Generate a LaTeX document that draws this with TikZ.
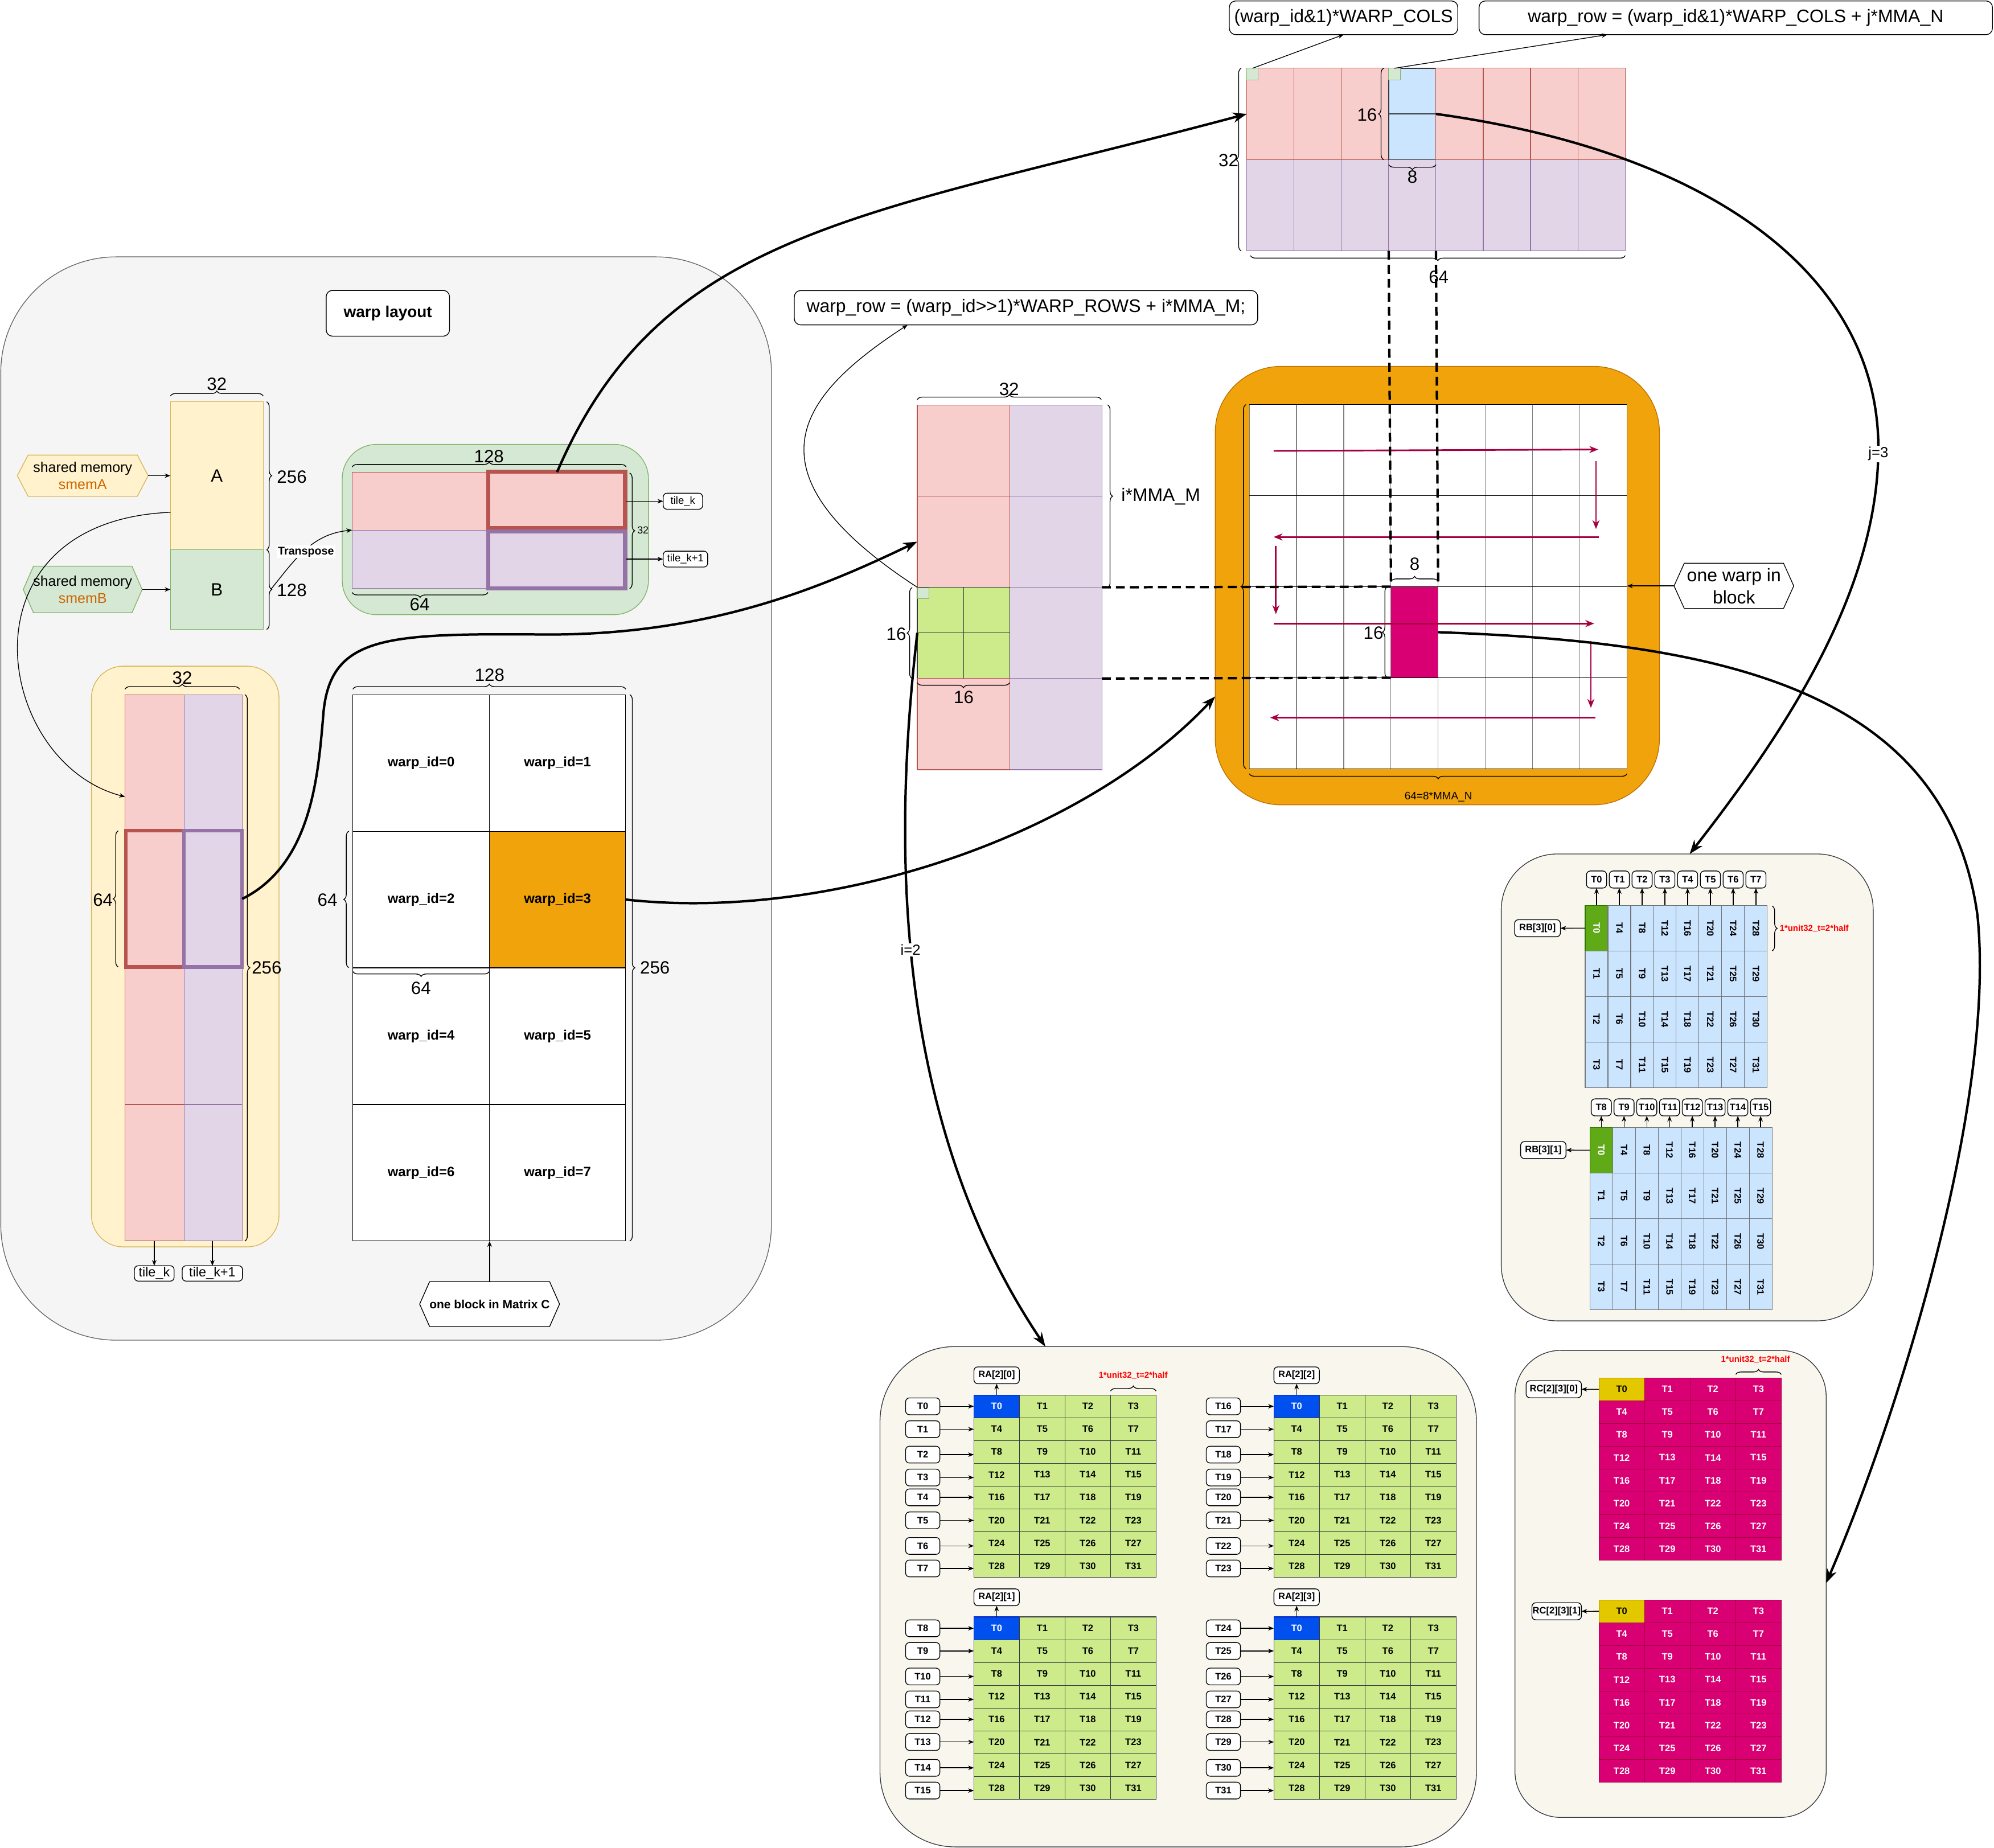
\documentclass[tikz,border=0pt]{standalone}
\usepackage{fontspec}
\setmainfont{Liberation Sans}
\usetikzlibrary{arrows.meta,decorations.pathreplacing,calc}
\definecolor{pinkF}{HTML}{F8CECC}\definecolor{pinkS}{HTML}{B85450}
\definecolor{purF}{HTML}{E1D5E7}\definecolor{purS}{HTML}{9673A6}
\definecolor{yelF}{HTML}{FFF2CC}\definecolor{yelS}{HTML}{D6B656}
\definecolor{grnF}{HTML}{D5E8D4}\definecolor{grnS}{HTML}{82B366}
\definecolor{bluF}{HTML}{CCE5FF}\definecolor{bluS}{HTML}{36393D}
\definecolor{oraF}{HTML}{F0A30A}\definecolor{oraS}{HTML}{BD7000}
\definecolor{magF}{HTML}{D80073}\definecolor{magS}{HTML}{A50040}
\definecolor{limF}{HTML}{CDEB8B}\definecolor{limS}{HTML}{36393D}
\definecolor{dgrF}{HTML}{60A917}\definecolor{dgrS}{HTML}{2D7600}
\definecolor{dblF}{HTML}{0050EF}\definecolor{dblS}{HTML}{001DBC}
\definecolor{gldF}{HTML}{E3C800}\definecolor{gldS}{HTML}{B09500}
\definecolor{panF}{HTML}{F5F5F5}\definecolor{panS}{HTML}{666666}
\definecolor{creF}{HTML}{F9F7ED}\definecolor{creS}{HTML}{36393D}
\definecolor{smemT}{HTML}{CC6600}
\definecolor{arrM}{HTML}{A50040}
\begin{document}
\begin{tikzpicture}[x=1pt,y=-1pt,
  every node/.style={inner sep=0pt,outer sep=0pt},
  nwb/.style={anchor=north west},
  rbox/.style={draw=black,fill=white,rounded corners=3pt,line width=0.6pt},
  lbl/.style={font=\fontsize{14}{17}\selectfont},
  big/.style={font=\fontsize{14.3}{17}\selectfont},
  tb/.style={font=\fontsize{7.4}{9}\selectfont\bfseries},
  redl/.style={font=\fontsize{6.7}{8}\selectfont\bfseries,text=red},
  fwid/.style={font=\fontsize{10.7}{13}\selectfont\bfseries},
  brc/.style={decorate,decoration={brace,amplitude=4pt},line width=0.6pt},
  arr/.style={-{Stealth[length=4.5pt,width=3.5pt]},line width=0.6pt},
  thk/.style={-{Stealth[length=11pt,width=8pt]},line width=1.9pt},
  marr/.style={-{Stealth[length=7pt,width=5.5pt]},draw=arrM,line width=1.3pt},
  dsh/.style={line width=1.9pt,dash pattern=on 7pt off 4pt},
]
\useasboundingbox (0,0) rectangle (1568,1453);
\fill[white] (0,0) rectangle (1568,1453);

% ================= LEFT PANEL =================
\node[nwb,draw=panS,fill=panF,line width=0.6pt,rounded corners=91pt,minimum width=606pt,minimum height=852pt] (leftpanel) at (0.6,202) {};
\node[rbox,rounded corners=5pt,minimum width=97pt,minimum height=36pt,font=\fontsize{12.5}{15}\selectfont\bfseries] (wl) at (305,246.4) {warp layout};

% A and B
\node[nwb,draw=yelS,fill=yelF,line width=0.6pt,minimum width=73pt,minimum height=116.3pt,lbl] (A) at (134,316) {A};
\node[nwb,draw=grnS,fill=grnF,line width=0.6pt,minimum width=73pt,minimum height=62.6pt,lbl] (B) at (134,432.3) {B};
\draw[brc] (134,311.5) -- (207,311.5);
\node[lbl] (l32a) at (170.5,302) {32};
\draw[brc] (209.7,316) -- (209.7,432.3);
\node[lbl] (l256a) at (229.5,375) {256};
\draw[brc] (209.7,432.3) -- (209.7,495);
\node[lbl] (l128b) at (229.5,464.4) {128};

% shared memory hexagons
\draw[draw=yelS,fill=yelF,line width=0.6pt] (13.6,374.1) -- (22.1,357.9) -- (108,357.9) -- (116.5,374.1) -- (108,390.3) -- (22.1,390.3) -- cycle;
\coordinate (smemAtip) at (116.5,374.1);
\node[align=center,font=\fontsize{11.2}{13.4}\selectfont] (smemA) at (65,374.3) {shared memory\\\textcolor{smemT}{smemA}};
\draw[arr] (smemAtip) -- (A.west |- smemAtip);
\draw[draw=grnS,fill=grnF,line width=0.6pt] (18.3,463.6) -- (26.3,445.3) -- (103.8,445.3) -- (111.8,463.6) -- (103.8,481.9) -- (26.3,481.9) -- cycle;
\coordinate (smemBtip) at (111.8,463.6);
\node[align=center,font=\fontsize{11.2}{13.4}\selectfont] (smemB) at (65,463.8) {shared memory\\\textcolor{smemT}{smemB}};
\draw[arr] (smemBtip) -- (B.west |- smemBtip);

% green panel
\node[nwb,draw=grnS,fill=grnF,line width=0.6pt,rounded corners=27pt,minimum width=240.8pt,minimum height=133.9pt] (gpanel) at (269.1,349.5) {};
\node[nwb,draw=pinkS,fill=pinkF,line width=0.5pt,minimum width=106.8pt,minimum height=45.6pt] (g11) at (276.9,371.3) {};
\node[nwb,draw=pinkS,fill=pinkF,line width=0.5pt,minimum width=108.7pt,minimum height=45.6pt] (g12) at (383.7,371.3) {};
\node[nwb,draw=purS,fill=purF,line width=0.5pt,minimum width=106.8pt,minimum height=46pt] (g21) at (276.9,416.9) {};
\node[nwb,draw=purS,fill=purF,line width=0.5pt,minimum width=108.7pt,minimum height=46pt] (g22) at (383.7,416.9) {};
\node[nwb,draw=pinkS,line width=3.2pt,minimum width=107.5pt,minimum height=44pt] (gkbox) at (384.1,371.1) {};
\node[nwb,draw=purS,line width=3.2pt,minimum width=107.5pt,minimum height=44.7pt] (gk1box) at (384.1,418) {};
\draw[brc] (276.9,367.3) -- (492.4,367.3);
\node[lbl] (l128g) at (384.5,358.9) {128};
\draw[brc] (495.1,372) -- (495.1,462.9);
\node[font=\fontsize{8}{10}\selectfont] (l32g) at (505.6,416.9) {32};
\draw[brc] (383.7,465.9) -- (276.9,465.9);
\node[lbl] (l64g) at (330,475.5) {64};
\node[rbox,minimum width=31pt,minimum height=12.6pt,font=\fontsize{8.3}{10}\selectfont] (gtk) at (537,394.2) {tile\_k};
\node[rbox,minimum width=35pt,minimum height=12.5pt,font=\fontsize{8.3}{10}\selectfont] (gtk1) at (539,439.7) {tile\_k+1};
\draw[arr] (gtk.west -| g12.east) -- (gtk.west);
\draw[arr] (gtk1.west -| g22.east) -- (gtk1.west);

% transpose
\coordinate (Btip) at (213,463.5);
\draw[arr] (Btip) .. controls (232,440) and (245,420) .. (g21.north west);
\node[fill=white,inner sep=1pt,font=\fontsize{8.8}{10}\selectfont\bfseries] (tr) at (240.6,434) {Transpose};

% yellow panel
\node[nwb,draw=yelS,fill=yelF,line width=0.6pt,rounded corners=25pt,minimum width=147.5pt,minimum height=456.7pt] (ypanel) at (71.9,523.9) {};
\node[nwb,draw=pinkS,fill=pinkF,line width=0.5pt,minimum width=46.4pt,minimum height=322.3pt] (yp1) at (98.3,546.3) {};
\node[nwb,draw=pinkS,fill=pinkF,line width=0.5pt,minimum width=46.4pt,minimum height=107.4pt] (yp2) at (98.3,868.6) {};
\node[nwb,draw=purS,fill=purF,line width=0.5pt,minimum width=45.7pt,minimum height=322.3pt] (yq1) at (144.7,546.3) {};
\node[nwb,draw=purS,fill=purF,line width=0.5pt,minimum width=45.7pt,minimum height=107.4pt] (yq2) at (144.7,868.6) {};
\node[nwb,draw=pinkS,line width=2.8pt,minimum width=45.7pt,minimum height=107.1pt] (ypbox0) at (99,653.4) {};
\node[nwb,draw=purS,line width=2.8pt,minimum width=45.7pt,minimum height=107.1pt] (ypbox) at (144.7,653.4) {};
\draw[brc] (98.3,542) -- (188.3,542);
\node[lbl] (l32y) at (143.3,533) {32};
\draw[brc] (192.5,546.3) -- (192.5,976);
\node[lbl] (l256y) at (209.7,761) {256};
\draw[brc] (93,760.5) -- (93,653.4);
\node[lbl] (l64y) at (80.9,707.7) {64};
\node[rbox,minimum width=31.2pt,minimum height=12.1pt,font=\fontsize{10.5}{12}\selectfont] (ytk) at (121.3,1001.5) {tile\_k};
\node[rbox,minimum width=47.4pt,minimum height=12.1pt,font=\fontsize{10.5}{12}\selectfont] (ytk1) at (167,1001.5) {tile\_k+1};
\draw[arr] (ytk.north |- yp2.south) -- (ytk.north);
\draw[arr] (ytk1.north |- yq2.south) -- (ytk1.north);

% A -> yellow thin curve
\coordinate (Aout) at (134,402.9);
\coordinate (yIn) at (98.3,626.6);
\draw[arr] (Aout) .. controls (-35,410) and (-5,600) .. (yIn);

% warp grid
\foreach \r in {0,...,3}{
 \foreach \c in {0,1}{
  \pgfmathtruncatemacro\wid{2*\r+\c}
  \pgfmathsetmacro\xx{277.5+\c*107.25}
  \pgfmathsetmacro\yy{546.3+\r*107.43}
  \ifnum\wid=3
   \node[nwb,draw=black,fill=oraF,line width=0.5pt,minimum width=107.25pt,minimum height=107.43pt,fwid] (w\wid) at (\xx,\yy) {warp\_id=\wid};
  \else
   \node[nwb,draw=black,fill=white,line width=0.5pt,minimum width=107.25pt,minimum height=107.43pt,fwid] (w\wid) at (\xx,\yy) {warp\_id=\wid};
  \fi
 }
}
\draw[brc] (277.5,542) -- (492,542);
\node[lbl] (l128w) at (385,531) {128};
\draw[brc] (495.2,546.3) -- (495.2,976);
\node[lbl] (l256w) at (515,761) {256};
\draw[brc] (274.3,761) -- (274.3,653.7);
\node[lbl] (l64wl) at (257.5,707.6) {64};
\draw[brc] (384.75,764) -- (277.5,764);
\node[lbl] (l64wb) at (331,777) {64};
\draw[draw=black,fill=white,line width=0.6pt] (330,1025.6) -- (337.8,1008) -- (432.2,1008) -- (440,1025.6) -- (432.2,1043.2) -- (337.8,1043.2) -- cycle;
\coordinate (oneblktop) at (385,1008);
\node[font=\fontsize{9.4}{11}\selectfont\bfseries] (oneblk) at (385,1025.6) {one block in Matrix C};
\draw[arr] (oneblktop) -- (oneblktop |- w6.south);

% ================= MIDDLE MATRIX =================
\foreach \r in {0,...,3}{
  \pgfmathsetmacro\yy{318.4+\r*71.73}
  \node[nwb,draw=purS,fill=purF,line width=0.5pt,minimum width=72.6pt,minimum height=71.73pt] (m-1-\r) at (793.9,\yy) {};
  \ifnum\r=2
    \node[nwb,draw=limS,fill=limF,line width=0.5pt,minimum width=72.6pt,minimum height=71.73pt] (m-0-\r) at (721.3,\yy) {};
  \else
    \node[nwb,draw=pinkS,fill=pinkF,line width=0.5pt,minimum width=72.6pt,minimum height=71.73pt] (m-0-\r) at (721.3,\yy) {};
  \fi
}
\draw[limS,line width=0.5pt] (m-0-2.north) -- (m-0-2.south);
\draw[limS,line width=0.5pt] (m-0-2.west) -- (m-0-2.east);
\node[nwb,draw=grnS,fill=grnF,line width=0.4pt,minimum width=9.3pt,minimum height=8.6pt] (msq) at (721.3,462.1) {};
\draw[brc] (721.3,314.3) -- (866,314.3);
\node[lbl] (l32m) at (793.5,306) {32};
\draw[brc] (870.9,318.4) -- (870.9,462.1);
\node[big] (limma) at (912.8,390.4) {i*MMA\_M};
\draw[brc] (717.3,533.6) -- (717.3,462.1);
\node[lbl] (l16ml) at (704.8,498.8) {16};
\draw[brc] (793.9,536.9) -- (721.3,536.9);
\node[lbl] (l16mb) at (757.8,548.5) {16};
\node[rbox,rounded corners=5pt,minimum width=364.4pt,minimum height=27pt,big] (wrbox) at (806.8,242) {warp\_row = (warp\_id>{}>1)*WARP\_ROWS + i*MMA\_M;};
\coordinate (wrIn) at (713.7,255.5);
\draw[arr] (m-0-2.north west) .. controls (580,370) and (630,310) .. (wrIn);

% ================= TOP MATRIX =================
\foreach \c in {0,...,7}{
  \pgfmathsetmacro\xx{980.4+\c*37.19}
  \node[nwb,draw=purS,fill=purF,line width=0.5pt,minimum width=37.19pt,minimum height=71.8pt] (t-\c-1) at (\xx,125.5) {};
  \ifnum\c=3
    \node[nwb,draw=bluS,fill=bluF,line width=0.6pt,minimum width=37.19pt,minimum height=71.8pt] (t-\c-0) at (\xx,53.7) {};
  \else
    \node[nwb,draw=pinkS,fill=pinkF,line width=0.5pt,minimum width=37.19pt,minimum height=71.8pt] (t-\c-0) at (\xx,53.7) {};
  \fi
}
\draw[bluS,line width=0.7pt] (t-3-0.west) -- (t-3-0.east);
\node[nwb,draw=grnS,fill=grnF,line width=0.4pt,minimum width=9pt,minimum height=9pt] (gsq1) at (980.4,53.7) {};
\node[nwb,draw=grnS,fill=grnF,line width=0.4pt,minimum width=9pt,minimum height=9pt] (gsq2) at (1092,53.7) {};
\node[rbox,rounded corners=5pt,minimum width=179.6pt,minimum height=26.5pt,big] (tb1) at (1056.5,14) {(warp\_id\&1)*WARP\_COLS};
\node[rbox,rounded corners=5pt,minimum width=403.7pt,minimum height=26.5pt,big] (tb2) at (1364.9,14) {warp\_row = (warp\_id\&1)*WARP\_COLS + j*MMA\_N};
\draw[arr] (gsq1.north) -- (tb1.south);
\draw[arr] (gsq2.north) -- ($(tb2.south west)!0.25!(tb2.south east)$);
\draw[brc] (976,197.3) -- (976,53.7);
\node[lbl] (l32t) at (966,126) {32};
\draw[brc] (1088,125.5) -- (1088,53.7);
\node[lbl] (l16t) at (1075,90.3) {16};
\draw[brc] (1129.2,129.5) -- (1092,129.5);
\node[lbl] (l8t) at (1110.7,139) {8};
\draw[brc] (1278,201) -- (983.3,201);
\node[lbl] (l64t) at (1131.3,218) {64};

% ================= ORANGE BLOCK =================
\node[nwb,draw=oraS,fill=oraF,line width=0.6pt,rounded corners=52pt,minimum width=349.3pt,minimum height=344.9pt] (orange) at (955.6,288.1) {};
\node[nwb,fill=white,minimum width=297pt,minimum height=286.3pt] (ogrid) at (982.4,318.2) {};
\node[nwb,fill=magF,minimum width=37.1pt,minimum height=71.6pt] (mblk) at (1093.8,461.4) {};
\foreach \i in {0,...,8} \draw[gray,line width=0.5pt] ($(ogrid.north west)+(\i*37.125,0)$) -- ++(0,286.3);
\foreach \j in {0,...,4} \draw[black,line width=0.5pt] ($(ogrid.north west)+(0,\j*71.575)$) -- ++(297,0);
\draw[brc] (979.8,604.5) -- (979.8,318.2);
\draw[brc] (1279.4,608.5) -- (982.4,608.5);
\node[font=\fontsize{8.5}{10}\selectfont] (l64o) at (1131.1,626.9) {64=8*MMA\_N};
\draw[brc] (1093.8,457.3) -- (1130.9,457.3);
\node[lbl] (l8o) at (1112.4,443.6) {8};
\draw[brc] (1091,533) -- (1091,461.4);
\node[lbl] (l16o) at (1080,497.6) {16};
\draw[marr] (1001.5,354.6) -- (1256.8,353.5);
\draw[marr] (1255,362.7) -- (1255,416.1);
\draw[marr] (1257.2,422.3) -- (1001.5,422.3);
\draw[marr] (1003.3,429.5) -- (1003.3,483);
\draw[marr] (1001.5,490.4) -- (1253.6,490.4);
\draw[marr] (1251,504) -- (1251,556.7);
\draw[marr] (1254.5,564.4) -- (998.8,564.4);
\draw[draw=black,fill=white,line width=0.6pt] (1316.4,460.8) -- (1324.4,443) -- (1402.5,443) -- (1410.5,460.8) -- (1402.5,478.5) -- (1324.4,478.5) -- cycle;
\coordinate (owbtip) at (1316.4,460.8);
\node[align=center,font=\fontsize{14.3}{17.5}\selectfont] (owb) at (1363.5,461) {one warp in\\block};
\draw[arr] (owbtip) -- (ogrid.east |- owbtip);

% dashed lines
\draw[dsh] (m-1-2.north east) -- (mblk.north west);
\draw[dsh] (m-1-3.north east) -- (mblk.south west);
\draw[dsh] (t-3-1.south west) -- (mblk.north west);
\draw[dsh] (t-3-1.south east) -- (mblk.north east);

% ================= RB PANEL =================
\node[nwb,draw=creS,fill=creF,line width=0.6pt,rounded corners=44pt,minimum width=292.5pt,minimum height=367.2pt] (rbpanel) at (1180.5,671.6) {};
\foreach \gname/\gx/\gy/\lb/\ly in {rbA/1246.5/712/0/691.7, rbB/1250.2/886.6/8/870.9}{
  \foreach \c in {0,...,7}{
    \foreach \r in {0,...,3}{
      \pgfmathtruncatemacro\tn{4*\c+\r}
      \pgfmathsetmacro\xx{\gx+\c*17.9}
      \pgfmathsetmacro\yy{\gy+\r*35.85}
      \ifnum\tn=0
        \node[nwb,draw=dgrS,fill=dgrF,text=white,tb,line width=0.5pt,minimum width=17.9pt,minimum height=35.85pt] (\gname-\c-\r) at (\xx,\yy) {\rotatebox{-90}{T\tn}};
      \else
        \node[nwb,draw=bluS!70,fill=bluF,tb,line width=0.5pt,minimum width=17.9pt,minimum height=35.85pt] (\gname-\c-\r) at (\xx,\yy) {\rotatebox{-90}{T\tn}};
      \fi
    }
    \pgfmathtruncatemacro\tl{\lb+\c}
    \pgfmathsetmacro\lx{\gx+\c*17.9+8.95}
    \node[rbox,tb,minimum width=15.8pt,minimum height=13.4pt] (\gname t-\c) at (\lx,\ly) {T\tl};
    \draw[arr] (\gname-\c-0.north) -- (\gname t-\c.south);
  }
}
\node[rbox,tb,minimum width=36pt,minimum height=13.4pt] (rb30) at (1209,730) {RB[3][0]};
\draw[arr] (rbA-0-0.west) -- (rb30.east);
\node[rbox,tb,minimum width=35.7pt,minimum height=13.4pt] (rb31) at (1213.6,904.5) {RB[3][1]};
\draw[arr] (rbB-0-0.west) -- (rb31.east);
\draw[brc] (1393.5,712.5) -- (1393.5,747.8);
\node[redl,anchor=west] (rbred) at (1399.5,730.3) {1*unit32\_t=2*half};

% ================= RA PANEL =================
\node[nwb,draw=creS,fill=creF,line width=0.6pt,rounded corners=59pt,minimum width=469pt,minimum height=393.5pt] (rapanel) at (692,1059) {};
\foreach \g/\gx/\gy in {0/765.8/1097, 1/765.8/1271.6, 2/1001.7/1097, 3/1001.7/1271.6}{
  \foreach \r in {0,...,7}{
    \foreach \c in {0,...,3}{
      \pgfmathtruncatemacro\tn{4*\r+\c}
      \pgfmathsetmacro\xx{\gx+\c*35.83}
      \pgfmathsetmacro\yy{\gy+\r*17.93}
      \ifnum\tn=0
        \node[nwb,draw=dblS,fill=dblF,text=white,tb,line width=0.5pt,minimum width=35.83pt,minimum height=17.93pt] (ra\g-\c-\r) at (\xx,\yy) {T\tn};
      \else
        \node[nwb,draw=limS,fill=limF,tb,line width=0.5pt,minimum width=35.83pt,minimum height=17.93pt] (ra\g-\c-\r) at (\xx,\yy) {T\tn};
      \fi
    }
  }
}
\foreach \g/\lx/\b in {0/725.6/0, 2/962/16}{
  \foreach \r/\ly in {0/1106,1/1124,2/1144,3/1162,4/1177.6,5/1195.7,6/1215.8,7/1233.5}{
    \pgfmathtruncatemacro\tn{\b+\r}
    \node[rbox,tb,minimum width=26.9pt,minimum height=13.2pt] (ral\g-\r) at (\lx,\ly) {T\tn};
    \draw[arr] (ral\g-\r.east) -- (ral\g-\r.east -| ra\g-0-0.west);
  }
}
\foreach \g/\lx/\b in {1/725.6/8, 3/962/24}{
  \foreach \r/\ly in {0/1280.6,1/1298.4,2/1318.5,3/1336.5,4/1352.2,5/1370,6/1390.3,7/1408.2}{
    \pgfmathtruncatemacro\tn{\b+\r}
    \node[rbox,tb,minimum width=26.9pt,minimum height=13.2pt] (ral\g-\r) at (\lx,\ly) {T\tn};
    \draw[arr] (ral\g-\r.east) -- (ral\g-\r.east -| ra\g-0-0.west);
  }
}
\foreach \g/\ty in {0/1081.5, 1/1256.2, 2/1082.4, 3/1256.2}{
  \node[rbox,tb,minimum width=35.7pt,minimum height=13.2pt,anchor=south] (rat\g) at ($(ra\g-0-0.north)+(0,-8.8)$) {RA[2][\g]};
  \draw[arr] (ra\g-0-0.north) -- (rat\g.south);
}
\draw[brc] (873.3,1094) -- (909.1,1094);
\node[redl] (rared) at (891,1081.6) {1*unit32\_t=2*half};

% ================= RC PANEL =================
\node[nwb,draw=creS,fill=creF,line width=0.6pt,rounded corners=36pt,minimum width=244.7pt,minimum height=367.3pt] (rcpanel) at (1191.3,1062) {};
\foreach \g/\gy in {0/1083.6, 1/1258.2}{
  \foreach \r in {0,...,7}{
    \foreach \c in {0,...,3}{
      \pgfmathtruncatemacro\tn{4*\r+\c}
      \pgfmathsetmacro\xx{1257.3+\c*35.85}
      \pgfmathsetmacro\yy{\gy+\r*17.93}
      \ifnum\tn=0
        \node[nwb,draw=gldS,fill=gldF,tb,line width=0.5pt,minimum width=35.85pt,minimum height=17.93pt] (rc\g-\c-\r) at (\xx,\yy) {T\tn};
      \else
        \node[nwb,draw=magS,fill=magF,text=white,tb,line width=0.5pt,minimum width=35.85pt,minimum height=17.93pt] (rc\g-\c-\r) at (\xx,\yy) {T\tn};
      \fi
    }
  }
}
\node[rbox,tb,minimum width=43.5pt,minimum height=13.4pt] (rcl0) at (1221.8,1092.6) {RC[2][3][0]};
\draw[arr] (rc0-0-0.west) -- (rcl0.east);
\node[rbox,tb,minimum width=38.9pt,minimum height=13.4pt] (rcl1) at (1224.1,1267.2) {RC[2][3][1]};
\draw[arr] (rc1-0-0.west) -- (rcl1.east);
\draw[brc] (1364.9,1081) -- (1400.7,1081);
\node[redl] (rcred) at (1380.4,1069.2) {1*unit32\_t=2*half};

% ================= THICK CURVES =================
\coordinate (orangeIn) at (955.6,547.7);
\coordinate (rbIn) at (1328.7,671.6);
\coordinate (raIn) at (822,1059);
\coordinate (rcIn) at (1436,1245);
\draw[thk] (g12.north) .. controls (520,180) and (680,170) .. (t-0-0.west);
\draw[thk] (ypbox.east) .. controls (245,680) and (250,610) .. (254,565) .. controls (258,500) and (300,498) .. (427,499) .. controls (560,500) and (650,460) .. (m-0-1.west);
\draw[thk] (w3.east) .. controls (650,725) and (850,660) .. (orangeIn);
\draw[thk] (t-3-0.east) .. controls (1350,120) and (1480,220) .. (1477,357) .. controls (1475,470) and (1400,580) .. (rbIn);
\node[fill=white,inner sep=1pt,font=\fontsize{11.5}{13}\selectfont] (j3) at (1477,357) {j=3};
\draw[thk] (m-0-2.west) .. controls (705,640) and (695,870) .. (raIn);
\node[fill=white,inner sep=1pt,font=\fontsize{11.5}{13}\selectfont] (i2) at (716,747) {i=2};
\draw[thk] (mblk.east) .. controls (1350,505) and (1530,540) .. (1555,720) .. controls (1570,870) and (1490,1120) .. (rcIn);
\end{tikzpicture}
\end{document}
